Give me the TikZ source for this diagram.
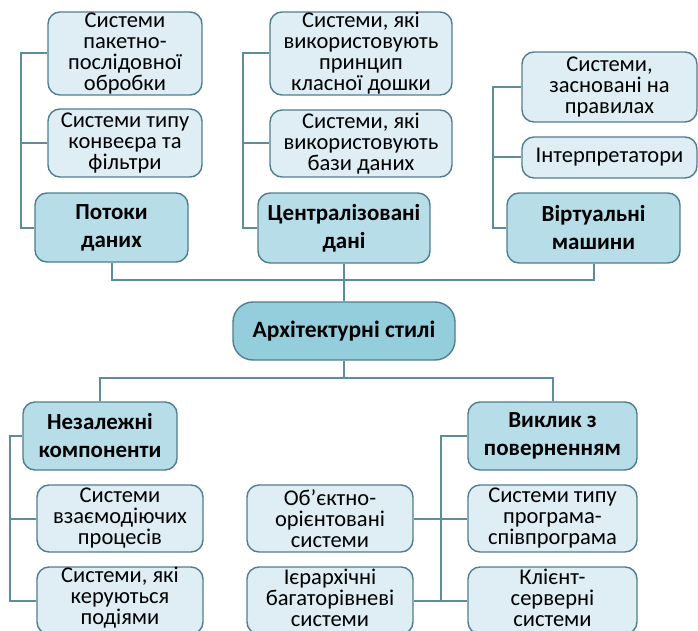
\documentclass[tikz,border=0pt]{standalone}
\usepackage{fontspec}
\setmainfont{Carlito}
\definecolor{leaffill}{HTML}{DEEEF4}
\definecolor{catfill}{HTML}{B7DDE8}
\definecolor{rootfill}{HTML}{94CEDD}
\definecolor{boxline}{HTML}{4F7F8E}
\definecolor{conline}{HTML}{5E8C9A}
\begin{document}
\begin{tikzpicture}[x=1pt,y=-1pt,
  leaf/.style={draw=boxline,line width=1.4pt,fill=leaffill,rounded corners=12pt,
    align=center,inner sep=0pt,text=black,
    font=\fontsize{22.5}{21}\selectfont},
  cat/.style={draw=boxline,line width=1.4pt,fill=catfill,rounded corners=12pt,
    align=center,inner sep=0pt,text=black,
    font=\fontsize{23}{28}\selectfont\bfseries},
  rootbox/.style={draw=boxline,line width=1.4pt,fill=rootfill,rounded corners=20pt,
    align=center,inner sep=0pt,text=black,
    font=\fontsize{23.5}{28}\selectfont\bfseries},
  con/.style={draw=conline,line width=2pt}]
\useasboundingbox (0,0) rectangle (698,631);
\clip (0,0) rectangle (698,631);
% top left
\node[leaf,minimum width=154pt,minimum height=83pt] (A1) at (125,53.5) {Системи\\пакетно-\\послідовної\\обробки};
\node[leaf,minimum width=154pt,minimum height=68pt] (A2) at (125,143) {Системи типу\\конвеєра та\\фільтри};
\node[cat,minimum width=153pt,minimum height=69pt] (A) at (111.5,227.5) {Потоки\\даних};
% top middle
\node[leaf,minimum width=182pt,minimum height=83pt] (B1) at (361,53.5) {Системи, які\\використовують\\принцип\\класної дошки};
\node[leaf,minimum width=182pt,minimum height=67pt] (B2) at (361,143.5) {Системи, які\\використовують\\бази даних};
\node[cat,minimum width=172pt,minimum height=70pt] (B) at (344,228) {Централізовані\\дані};
% top right
\node[leaf,minimum width=175pt,minimum height=70pt] (C1) at (609.5,87) {Системи,\\засновані на\\правилах};
\node[leaf,minimum width=175pt,minimum height=41pt] (C2) at (609.5,157.5) {Інтерпретатори};
\node[cat,minimum width=173pt,minimum height=70pt] (C) at (593.5,228) {Віртуальні\\машини};
% root
\node[rootbox,minimum width=222pt,minimum height=58pt] (R) at (344,331) {Архітектурні стилі};
% bottom left
\node[cat,minimum width=154pt,minimum height=68pt] (D) at (100,436) {Незалежні\\компоненти};
\node[leaf,minimum width=166pt,minimum height=67pt] (D1) at (120,518.5) {Системи\\взаємодіючих\\процесів};
\node[leaf,minimum width=166pt,minimum height=67pt] (D2) at (120,600.5) {};
\node[leaf,draw=none,fill=none,minimum width=166pt,minimum height=67pt] (D2t) at (120,598) {Системи, які\\керуються\\подіями};
% bottom middle
\node[leaf,minimum width=166pt,minimum height=67pt] (F1) at (330,518.5) {Об’єктно-\\орієнтовані\\системи};
\node[leaf,minimum width=166pt,minimum height=67pt] (F2) at (330,600.5) {};
\node[leaf,draw=none,fill=none,minimum width=166pt,minimum height=67pt] (F2t) at (330,598) {Ієрархічні\\багаторівневі\\системи};
% bottom right
\node[cat,minimum width=169pt,minimum height=68pt] (E) at (552.5,436) {Виклик з\\поверненням};
\node[leaf,minimum width=169pt,minimum height=67pt] (E1) at (552.5,518.5) {Системи типу\\програма-\\співпрограма};
\node[leaf,minimum width=169pt,minimum height=67pt] (E2) at (552.5,600.5) {};
\node[leaf,draw=none,fill=none,minimum width=169pt,minimum height=67pt] (E2t) at (552.5,598) {Клієнт-\\серверні\\системи};
% axes
\coordinate (la) at (21,0);
\coordinate (lbm) at (243,0);
\coordinate (lcr) at (493,0);
\coordinate (ld) at (10,0);
\coordinate (le) at (441,0);
\coordinate (bus1) at (0,280);
\coordinate (bus2) at (0,378);
% connectors top
\draw[con] (A1.west) -- (A1.west -| la) |- (A.west);
\draw[con] (A2.west) -- (A2.west -| la);
\draw[con] (B1.west) -- (B1.west -| lbm) |- (B.west);
\draw[con] (B2.west) -- (B2.west -| lbm);
\draw[con] (C1.west) -- (C1.west -| lcr) |- (C.west);
\draw[con] (C2.west) -- (C2.west -| lcr);
\draw[con] (A.south) -- (A.south |- bus1) -- (C.south |- bus1) -- (C.south);
\draw[con] (B.south) -- (R.north);
% connectors bottom
\draw[con] (R.south) -- (R.south |- bus2);
\draw[con] (D.north) -- (D.north |- bus2) -- (E.north |- bus2) -- (E.north);
\draw[con] (D.west) -- (D.west -| ld) |- (D2.west);
\draw[con] (D1.west) -- (D1.west -| ld);
\draw[con] (E.west) -- (E.west -| le) |- (E2.west);
\draw[con] (F1.east) -- (E1.west);
\draw[con] (F2.east) -- (E2.west -| le);
\end{tikzpicture}
\end{document}
